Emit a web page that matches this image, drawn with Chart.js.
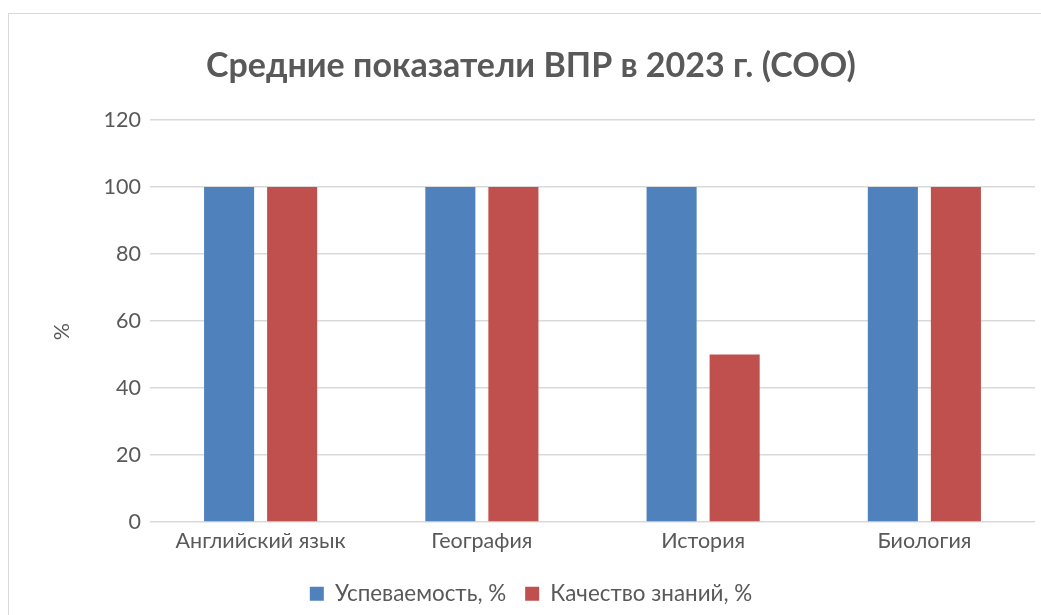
<!DOCTYPE html>
<html><head><meta charset="utf-8">
<script src="https://cdn.jsdelivr.net/npm/chart.js@4"></script>
<style>
html,body{margin:0;padding:0;background:#fff;overflow:hidden}
#wrap{position:relative;width:1041px;height:615px;overflow:hidden}
#frame{position:absolute;left:8px;top:13px;width:1100px;height:700px;border:1px solid #d9d9d9;box-sizing:border-box;pointer-events:none}
canvas{position:absolute;left:0;top:0}
</style></head>
<body><div id="wrap"><div id="frame"></div><canvas id="c" width="1041" height="615"></canvas></div>
<script>
const categories = ["Английский язык", "География", "История", "Биология"];
const seriesNames = ["Успеваемость, %", "Качество знаний, %"];
const uspevaemost = [100, 100, 100, 100];
const kachestvo = [100, 100, 50, 100];
const yTicks = [0, 20, 40, 60, 80, 100, 120];
const titleText = "Средние показатели ВПР в 2023 г. (СОО)";
const yTitle = "%\u2002\u2002";

const FONT = "Lato, 'Noto Sans', sans-serif";
const TXT = "#595959";
const FS = 21.5;

new Chart(document.getElementById('c'), {
  type: 'bar',
  data: {
    labels: categories,
    datasets: [
      {label: seriesNames[0], data: uspevaemost, backgroundColor: '#4F81BD'},
      {label: seriesNames[1], data: kachestvo, backgroundColor: '#C0504D'}
    ]
  },
  options: {
    responsive: false,
    animation: false,
    layout: {padding: {left: 27, right: 6, top: 0, bottom: 0}},
    datasets: {bar: {categoryPercentage: 0.57, barPercentage: 0.794}},
    plugins: {
      title: {display: true, text: titleText, color: TXT,
        font: {family: FONT, size: 34, weight: 'bold'}, padding: {top: 45.6, bottom: 33.6}},
      legend: {position: 'bottom',
        labels: {color: TXT, font: {family: FONT, size: 22.4}, boxWidth: 14, boxHeight: 14, padding: 19}},
      tooltip: {enabled: false}
    },
    scales: {
      x: {
        afterFit: (s) => { s.height = 41.6; },
        grid: {display: false, drawTicks: false},
        border: {display: false},
        ticks: {color: TXT, font: {family: FONT, size: FS}, padding: 6, maxRotation: 0}
      },
      y: {
        min: 0, max: 120,
        afterBuildTicks: (s) => { s.ticks = yTicks.map(v => ({value: v})); },
        afterFit: (s) => { s.width = 123; },
        grid: {color: '#d9d9d9', lineWidth: 1.5, drawTicks: false},
        border: {display: false},
        title: {display: true, text: yTitle, color: TXT, font: {family: FONT, size: FS}, padding: {top: 22.4, bottom: 0}},
        ticks: {color: TXT, font: {family: FONT, size: FS}, padding: 9}
      }
    }
  }
});
</script></body></html>
